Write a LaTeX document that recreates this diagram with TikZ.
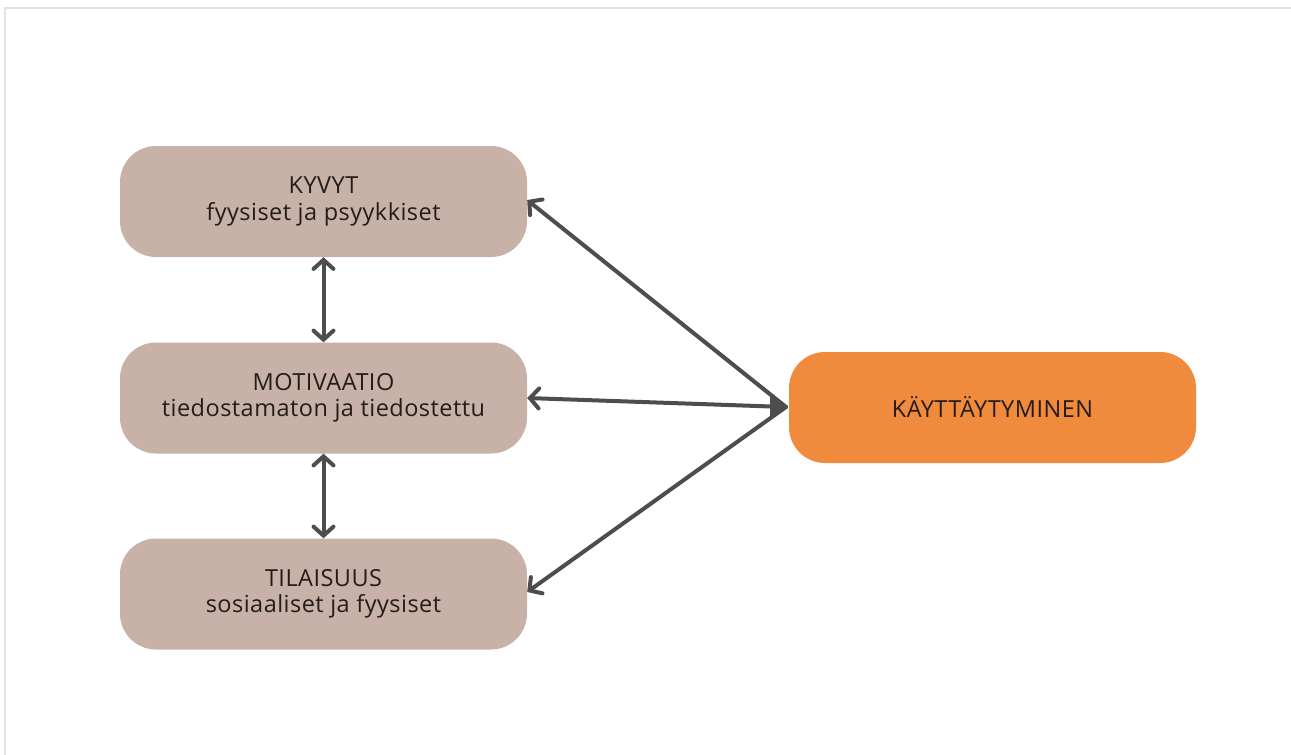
\documentclass[tikz,border=0pt]{standalone}
\usepackage{fontspec}
\setmainfont{Open Sans}[LetterSpace=2]
\usetikzlibrary{arrows.meta}
\definecolor{taupe}{HTML}{C8B1A6}
\definecolor{orangebox}{HTML}{F08A3C}
\definecolor{arrowgray}{HTML}{4D4D4D}
\definecolor{textdark}{HTML}{241C1A}
\definecolor{framegray}{HTML}{E2E2E2}
\tikzset{
  factorbox/.style={fill=taupe, rounded corners=36pt, minimum width=407pt, minimum height=111pt, inner sep=0pt, align=center, text=textdark, font=\fontsize{23.5}{26.5}\selectfont},
  behaviourbox/.style={factorbox, fill=orangebox},
  link/.style={draw=arrowgray, line width=4pt, line cap=round, line join=miter},
  linkarrow/.style={link, -{Straight Barb[length=9pt, width=20pt, line width=4pt, line cap=round]}},
  bothlink/.style={link, {Straight Barb[length=9pt, width=20pt, line width=4pt, line cap=round]}-{Straight Barb[length=9pt, width=20pt, line width=4pt, line cap=round]}}
}
\begin{document}
\begin{tikzpicture}[x=1pt, y=-1pt]
\useasboundingbox (0,0) rectangle (1291,755);
\fill[white] (0,0) rectangle (1291,755);
\draw[framegray, line width=2pt] (5,760) -- (5,8) -- (1296,8);
\node[factorbox] (kyvyt) at (323.5,201.5) {KYVYT\\fyysiset ja psyykkiset};
\node[factorbox] (motivaatio) at (323.5,398) {MOTIVAATIO\\tiedostamaton ja tiedostettu};
\node[factorbox] (tilaisuus) at (323.5,594) {TILAISUUS\\sosiaaliset ja fyysiset};
\node[behaviourbox] (kaytt) at (992.5,407.5) {KÄYTTÄYTYMINEN};
\coordinate (hub) at (786,407);
\draw[linkarrow] (hub) -- (kyvyt.east |- 0,200);
\draw[linkarrow] (hub) -- (motivaatio.east);
\draw[linkarrow] (hub) -- (tilaisuus.east |- 0,592);
\fill[arrowgray] (hub) -- ++(-16,-12) -- ++(0,24) -- cycle;
\draw[bothlink] (kyvyt.south) -- (motivaatio.north);
\draw[bothlink] (motivaatio.south) -- (tilaisuus.north);
\end{tikzpicture}
\end{document}
